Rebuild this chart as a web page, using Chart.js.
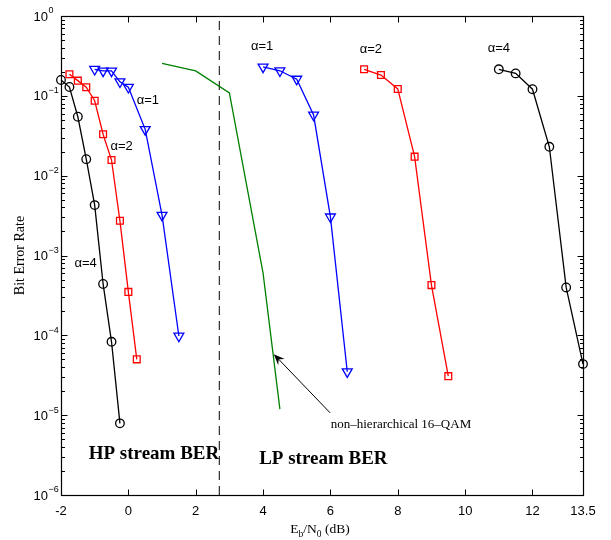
<!DOCTYPE html>
<html>
<head>
<meta charset="utf-8">
<script src="https://cdn.jsdelivr.net/npm/chart.js@4/dist/chart.umd.min.js"></script>
<style>
  html, body { margin: 0; padding: 0; background: #fff; }
  canvas { display: block; }
</style>
</head>
<body>
<canvas id="ber" width="611" height="540"></canvas>
<script>
// Axis ticks
const xTickValues = [-2, 0, 2, 4, 6, 8, 10, 12, 13.5];
const yTickExponents = [0, -1, -2, -3, -4, -5, -6];
const xMin = -2, xMax = 13.5, yMin = 1e-6, yMax = 1;

// HP stream BER (hierarchical 16-QAM), Eb/N0 in dB
const hpSnr1 = [-1, -0.75, -0.5, -0.25, 0, 0.5, 1, 1.5];
const hpBer1 = [0.215, 0.205, 0.205, 0.150, 0.128, 0.038, 0.0032, 9.8e-5];
const hpSnr2 = [-1.75, -1.5, -1.25, -1, -0.75, -0.5, -0.25, 0, 0.25];
const hpBer2 = [0.186, 0.155, 0.128, 0.0868, 0.033, 0.0157, 0.00272, 3.5e-4, 5.0e-5];
const hpSnr4 = [-2, -1.75, -1.5, -1.25, -1, -0.75, -0.5, -0.25];
const hpBer4 = [0.158, 0.129, 0.0547, 0.0161, 0.00428, 4.4e-4, 8.3e-5, 7.9e-6];

// LP stream BER
const lpSnr1 = [4, 4.5, 5, 5.5, 6, 6.5];
const lpBer1 = [0.23, 0.206, 0.162, 0.0575, 0.00305, 3.5e-5];
const lpSnr2 = [7, 7.5, 8, 8.5, 9, 9.5];
const lpBer2 = [0.215, 0.182, 0.122, 0.0173, 4.26e-4, 3.08e-5];
const lpSnr4 = [11, 11.5, 12, 12.5, 13, 13.5];
const lpBer4 = [0.215, 0.191, 0.121, 0.023, 3.98e-4, 4.36e-5];

// Non-hierarchical 16-QAM reference
const qamSnr = [1, 2, 3, 4, 4.5];
const qamBer = [0.255, 0.205, 0.109, 6.0e-4, 1.19e-5];

// HP / LP region boundary
const boundarySnr = 2.7;

// Text labels
const alphaLabels = ['α=1', 'α=2', 'α=4', 'α=1', 'α=2', 'α=4'];
const regionLabels = ['HP stream BER', 'LP stream BER'];
const qamNote = 'non–hierarchical 16–QAM';
const yTitle = 'Bit Error Rate';

// Label anchors, in axis units (Eb/N0, BER)
const alphaAnchorSnr = [0.58, -0.2, -1.27, 3.97, 7.2, 11.0];
const alphaAnchorBer = [0.0886, 0.0235, 8.0e-4, 0.421, 0.386, 0.397];
const regionAnchorSnr = [0.76, 5.79];
const regionAnchorBer = [2.81e-6, 2.43e-6];
const noteAnchor = [6.01, 7.0e-6];
const arrowTail = [5.99, 1.07e-5];
const arrowTip = [4.32, 5.8e-5];

const pts = (xs, ys) => xs.map((x, i) => ({ x: x, y: ys[i] }));

function series(xs, ys, color, style, radius) {
  return {
    data: pts(xs, ys),
    borderColor: color,
    borderWidth: 1.3,
    pointStyle: style,
    pointRadius: radius,
    pointRotation: style === 'triangle' ? 180 : 0,
    pointBorderColor: color,
    pointBackgroundColor: 'rgba(0,0,0,0)',
    pointBorderWidth: 1.3,
    tension: 0,
    clip: false
  };
}

const datasets = [
  series(hpSnr1, hpBer1, '#0000ff', 'triangle', 5.7),
  series(hpSnr2, hpBer2, '#ff0000', 'rect', 4.8),
  series(hpSnr4, hpBer4, '#000000', 'circle', 4.3),
  series(lpSnr1, lpBer1, '#0000ff', 'triangle', 5.7),
  series(lpSnr2, lpBer2, '#ff0000', 'rect', 4.8),
  series(lpSnr4, lpBer4, '#000000', 'circle', 4.3),
  {
    data: pts(qamSnr, qamBer),
    borderColor: '#008000', borderWidth: 1.3, pointRadius: 0, tension: 0
  },
  {
    data: pts([boundarySnr, boundarySnr], [yMin, yMax]),
    borderColor: '#000', borderWidth: 1, borderDash: [9, 6], pointRadius: 0
  }
];

const SANS = '"Liberation Sans", Arial, Helvetica, sans-serif';
const SERIF = '"Liberation Serif", "Times New Roman", serif';

const decor = {
  id: 'decor',
  afterDatasetsDraw(chart) {
    const ctx = chart.ctx, xs = chart.scales.x, ys = chart.scales.y;
    ctx.save();
    ctx.fillStyle = '#000';

    // alpha labels
    ctx.font = '13px ' + SANS;
    ctx.textAlign = 'center';
    ctx.textBaseline = 'middle';
    alphaLabels.forEach((t, i) => {
      ctx.fillText(t, xs.getPixelForValue(alphaAnchorSnr[i]), ys.getPixelForValue(alphaAnchorBer[i]));
    });

    // region labels
    ctx.font = 'bold 19px ' + SERIF;
    ctx.textBaseline = 'alphabetic';
    regionLabels.forEach((t, i) => {
      ctx.fillText(t, xs.getPixelForValue(regionAnchorSnr[i]), ys.getPixelForValue(regionAnchorBer[i]));
    });

    // note with arrow
    ctx.font = '13px ' + SERIF;
    ctx.textAlign = 'left';
    ctx.fillText(qamNote, xs.getPixelForValue(noteAnchor[0]), ys.getPixelForValue(noteAnchor[1]));

    const tx = xs.getPixelForValue(arrowTail[0]), ty = ys.getPixelForValue(arrowTail[1]);
    const hx = xs.getPixelForValue(arrowTip[0]), hy = ys.getPixelForValue(arrowTip[1]);
    const ang = Math.atan2(hy - ty, hx - tx);
    ctx.strokeStyle = '#000';
    ctx.lineWidth = 1;
    ctx.beginPath();
    ctx.moveTo(tx, ty);
    ctx.lineTo(hx - 6 * Math.cos(ang), hy - 6 * Math.sin(ang));
    ctx.stroke();
    const L = 11, W = 4.5, back = 7;
    const ux = Math.cos(ang), uy = Math.sin(ang), nx = -uy, ny = ux;
    ctx.beginPath();
    ctx.moveTo(hx, hy);
    ctx.lineTo(hx - L * ux + W * nx, hy - L * uy + W * ny);
    ctx.lineTo(hx - back * ux, hy - back * uy);
    ctx.lineTo(hx - L * ux - W * nx, hy - L * uy - W * ny);
    ctx.closePath();
    ctx.fill();
    ctx.restore();
  },
  afterDraw(chart) {
    const ctx = chart.ctx, xs = chart.scales.x, ys = chart.scales.y;
    const a = chart.chartArea;
    const L = Math.round(a.left) + 0.5, R = Math.round(a.right) + 0.5;
    const T = Math.round(a.top) + 0.5, B = Math.round(a.bottom) + 0.5;
    ctx.save();
    ctx.strokeStyle = '#000';
    ctx.lineWidth = 1.2;
    ctx.strokeRect(L, T, R - L, B - T);

    ctx.lineWidth = 1;
    ctx.beginPath();
    // x ticks, bottom and top, pointing inward
    xTickValues.forEach(v => {
      const p = Math.round(xs.getPixelForValue(v)) + 0.5;
      ctx.moveTo(p, B); ctx.lineTo(p, B - 6);
      ctx.moveTo(p, T); ctx.lineTo(p, T + 6);
    });
    // y major and minor ticks, left and right
    yTickExponents.forEach(e => {
      const p = Math.round(ys.getPixelForValue(Math.pow(10, e))) + 0.5;
      ctx.moveTo(L, p); ctx.lineTo(L + 6, p);
      ctx.moveTo(R, p); ctx.lineTo(R - 6, p);
      if (e < 0) {
        for (let k = 2; k <= 9; k++) {
          const q = Math.round(ys.getPixelForValue(k * Math.pow(10, e))) + 0.5;
          ctx.moveTo(L, q); ctx.lineTo(L + 3.5, q);
          ctx.moveTo(R, q); ctx.lineTo(R - 3.5, q);
        }
      }
    });
    ctx.stroke();

    // y tick labels: 10 with superscript exponent
    ctx.fillStyle = '#000';
    ctx.textAlign = 'left';
    ctx.textBaseline = 'middle';
    yTickExponents.forEach(e => {
      const p = ys.getPixelForValue(Math.pow(10, e));
      ctx.font = '13px ' + SANS;
      const x0 = 33.5;
      ctx.fillText('10', x0, p + 1);
      const w = ctx.measureText('10').width;
      ctx.font = '9px ' + SANS;
      ctx.fillText(e === 0 ? '0' : '−' + Math.abs(e), x0 + w + 0.5, p - 5);
    });

    // x axis title: Eb/N0 (dB) with subscripts
    const parts = [['E', 0], ['b', 1], ['/N', 0], ['0', 1], [' (dB)', 0]];
    let total = 0;
    parts.forEach(([t, sub]) => {
      ctx.font = (sub ? '9.5px ' : '13.5px ') + SERIF;
      total += ctx.measureText(t).width;
    });
    let cx = (a.left + a.right) / 2 - 2 - total / 2;
    const base = 533;
    ctx.textBaseline = 'alphabetic';
    parts.forEach(([t, sub]) => {
      ctx.font = (sub ? '9.5px ' : '13.5px ') + SERIF;
      ctx.fillText(t, cx, sub ? base + 4 : base);
      cx += ctx.measureText(t).width;
    });
    ctx.restore();
  }
};

new Chart(document.getElementById('ber').getContext('2d'), {
  type: 'line',
  data: { datasets: datasets },
  options: {
    responsive: false,
    animation: false,
    devicePixelRatio: 1,
    layout: { padding: { left: 0, top: 16, right: 28, bottom: 0 } },
    plugins: { legend: { display: false }, tooltip: { enabled: false } },
    scales: {
      x: {
        type: 'linear', min: xMin, max: xMax,
        afterBuildTicks: s => { s.ticks = xTickValues.map(v => ({ value: v })); },
        afterFit: s => { s.height = 45; },
        grid: { display: false, drawTicks: false },
        border: { display: false },
        ticks: {
          autoSkip: false, maxRotation: 0, padding: 9, color: '#000',
          font: { family: SANS, size: 13 },
          callback: v => String(v)
        }
      },
      y: {
        type: 'logarithmic', min: yMin, max: yMax,
        afterBuildTicks: s => { s.ticks = yTickExponents.map(e => ({ value: Math.pow(10, e) })); },
        afterFit: s => { s.width = 61; },
        grid: { display: false, drawTicks: false },
        border: { display: false },
        ticks: { display: false },
        title: {
          display: true, text: yTitle, color: '#000',
          font: { family: SERIF, size: 14 },
          padding: { top: 12, bottom: 0 }
        }
      }
    }
  },
  plugins: [decor]
});
</script>
</body>
</html>
